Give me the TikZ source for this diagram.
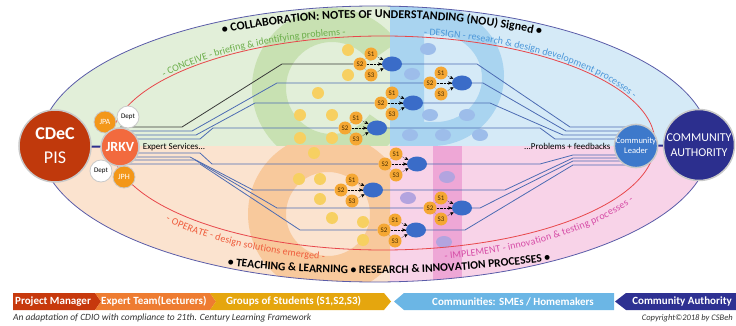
\documentclass[tikz,border=0pt]{standalone}
\usepackage{fontspec}
\setmainfont{Carlito}
\usepackage{tikz}
\usetikzlibrary{arrows}
\usetikzlibrary{calc}
\usetikzlibrary{positioning}
\usetikzlibrary{shapes.geometric}
\usetikzlibrary{decorations.text}

\definecolor{qgreen}{HTML}{E2EFD9}
\definecolor{qblue}{HTML}{D5EAF7}
\definecolor{qpeach}{HTML}{FBE3CF}
\definecolor{qpink}{HTML}{F8D3E8}
\definecolor{letC}{HTML}{C8E1B2}
\definecolor{letD}{HTML}{A9D4F0}
\definecolor{letO}{HTML}{F8C99C}
\definecolor{letI}{HTML}{EEA7D6}
\definecolor{dotY}{HTML}{F7D061}
\definecolor{dotB}{HTML}{9DBDEA}
\definecolor{dotP}{HTML}{B3A4DF}
\definecolor{rimline}{HTML}{5A5CA8}
\definecolor{redline}{HTML}{E8474B}
\definecolor{wireblue}{HTML}{4D6CB3}
\definecolor{wiredark}{HTML}{3A3A3A}
\definecolor{studorange}{HTML}{F5A733}
\definecolor{studtext}{HTML}{4A2E00}
\definecolor{blobblue}{HTML}{3A6CC8}
\definecolor{cdecred}{HTML}{C0390C}
\definecolor{jrkvred}{HTML}{F26A3E}
\definecolor{jporange}{HTML}{F39719}
\definecolor{clblue}{HTML}{3D79CB}
\definecolor{canavy}{HTML}{2C2F8E}
\definecolor{ringgray}{HTML}{C9C9C9}
\definecolor{conceive}{HTML}{6CAE4A}
\definecolor{design}{HTML}{4C97D9}
\definecolor{operate}{HTML}{EF5B3B}
\definecolor{implement}{HTML}{D64CA6}
\definecolor{pmband}{HTML}{C7390D}
\definecolor{etband}{HTML}{EE7C31}
\definecolor{gsband}{HTML}{E5A60E}
\definecolor{cmband}{HTML}{6BB6E5}
\definecolor{caband}{HTML}{2E3192}

\pgfdeclarelayer{back}
\pgfdeclarelayer{wires}
\pgfsetlayers{back,wires,main}

\begin{document}
\begin{tikzpicture}[x=1pt, y=-1pt, >=stealth']

    \tikzstyle{bigcirc}   = [circle, draw=ringgray, line width=1.5pt, inner sep=0pt, text=white, align=center]
    \tikzstyle{smallcirc} = [circle, draw=ringgray, line width=0.8pt, inner sep=0pt, minimum size=22pt, font=\fontsize{8}{8}\selectfont]
    \tikzstyle{stud}      = [circle, fill=studorange, inner sep=0pt, minimum size=13pt, text=studtext, font=\fontsize{7}{7}\selectfont]
    \tikzstyle{blob}      = [ellipse, fill=blobblue, inner sep=0pt, minimum width=20pt, minimum height=15pt]
    \tikzstyle{wire}      = [draw=wireblue, line width=0.8pt]
    \tikzstyle{sdot}      = [densely dotted, thin, black!70]
    \tikzstyle{feed}      = [->, densely dotted, thin, black]
    \tikzstyle{joint}     = [draw=canavy, line width=2pt]
    \tikzstyle{bandtext}  = [text=white, inner sep=0pt, font=\fontsize{11}{11}\selectfont\bfseries]

    \useasboundingbox (0,0) rectangle (736,326);

    % Quadrants, big letters and dots %%%%%%%%%%%%%%%%%%%%%%%%%%%%%%%%%%%%%%%%%%%%%%%%%%%
    \begin{pgfonlayer}{back}
      \begin{scope}
        \clip (375,144) ellipse [x radius=335, y radius=138];
        \fill[qgreen] (0,0) rectangle (390,146);
        \fill[qblue]  (390,0) rectangle (736,146);
        \fill[qpeach] (0,146) rectangle (390,326);
        \fill[qpink]  (390,146) rectangle (736,326);

        \begin{scope}
          \clip (0,0) rectangle (390,146);
          \fill[letC] ($(332,88)+(35:80)$) arc[start angle=35, end angle=325, radius=80]
                      -- ($(332,88)+(325:46)$) arc[start angle=325, end angle=35, radius=46] -- cycle;
        \end{scope}
        \begin{scope}
          \clip (390,0) rectangle (736,146);
          \fill[letD, even odd rule] (390,6) -- (432,6) arc[start angle=270, end angle=450, x radius=72, y radius=70] -- (390,146) -- cycle
                                     (424,34) -- (436,34) arc[start angle=270, end angle=450, x radius=46, y radius=44] -- (424,122) -- cycle;
        \end{scope}
        \begin{scope}
          \clip (0,146) rectangle (390,326);
          \fill[letO, even odd rule] (328,214) circle[radius=80] (328,214) circle[radius=42];
        \end{scope}
        \fill[letI] (433,146) rectangle (462,300);

        \foreach \p in {(348,50),(348,75),(318,93),(300,115),(332,115),(300,138),(332,138),
                        (314,153),(299,179),(320,179),(320,199),(332,218),(363,222),(363,240)}
          \fill[dotY] \p circle[radius=6];
        \foreach \p in {(428,49),(412,74),(430,115),(467,115),(410,135),(443,135),(480,135)}
          \fill[dotB] \p ellipse[x radius=8, y radius=6];
        \foreach \p in {(447,177),(408,198),(444,242)}
          \fill[dotP] \p ellipse[x radius=8, y radius=6];
      \end{scope}

      \draw[rimline, line width=0.8pt] (375,144) ellipse [x radius=335, y radius=138];
      \draw[redline, line width=0.8pt] (383,143) ellipse [x radius=272, y radius=107];

      % texts along the rings
      \path[decorate, decoration={text along path, text align=center,
            text={|\fontsize{12}{12}\selectfont\bfseries|• COLLABORATION: NOTES OF UNDERSTANDING (NOU) Signed •}}]
            ($(378,144)+(222:324 and 126)$) arc[start angle=222, end angle=320, x radius=324, y radius=126];
      \path[decorate, decoration={text along path, text align=center, raise=2pt,
            text={|\fontsize{10}{10}\selectfont\color{conceive}|- CONCEIVE - briefing {\&} identifying problems -}}]
            ($(383,143)+(200:272 and 107)$) arc[start angle=200, end angle=272, x radius=272, y radius=107];
      \path[decorate, decoration={text along path, text align=center, raise=2pt,
            text={|\fontsize{10}{10}\selectfont\color{design}|- DESIGN - research {\&} design development processes -}}]
            ($(383,143)+(272:272 and 107)$) arc[start angle=272, end angle=350, x radius=272, y radius=107];
      \path[decorate, decoration={text along path, text align=center, raise=-12pt,
            text={|\fontsize{10}{10}\selectfont\color{operate}|- OPERATE - design solutions emerged -}}]
            ($(383,143)+(156:272 and 107)$) arc[start angle=156, end angle=93, x radius=272, y radius=107];
      \path[decorate, decoration={text along path, text align=center, raise=-12pt,
            text={|\fontsize{10}{10}\selectfont\color{implement}|- IMPLEMENT - innovation {\&} testing processes -}}]
            ($(383,143)+(84:272 and 107)$) arc[start angle=84, end angle=13, x radius=272, y radius=107];
      \path[decorate, decoration={text along path, text align=center,
            text={|\fontsize{11.5}{12}\selectfont\bfseries|• TEACHING {\&} LEARNING • RESEARCH {\&} INNOVATION PROCESSES •}}]
            ($(370,144.5)+(116:409 and 129)$) arc[start angle=116, end angle=58, x radius=409, y radius=129];
    \end{pgfonlayer}

    % Partners %%%%%%%%%%%%%%%%%%%%%%%%%%%%%%%%%%%%%%%%%%%%%%%%%%%%%%%%%%%%%%%%%%%%%%%%%%
    \node[bigcirc, fill=cdecred, minimum size=72pt, font=\fontsize{18}{24}\selectfont] (cdec) at (55,146) {\textbf{CDeC}\\PIS};
    \node[smallcirc, fill=jporange, text=white] (jpa)   at (105,122) {JPA};
    \node[smallcirc, fill=white, font=\fontsize{7}{7}\selectfont] (dept1) at (128,117) {Dept};
    \node[smallcirc, fill=white, font=\fontsize{7}{7}\selectfont] (dept2) at (101,171) {Dept};
    \node[smallcirc, fill=jporange, text=white] (jph)   at (124,177) {JPH};
    \node[bigcirc, fill=jrkvred, minimum size=38pt, font=\fontsize{14}{14}\selectfont\bfseries] (jrkv) at (120,147) {JRKV};

    \node[bigcirc, fill=clblue, minimum size=42pt, font=\fontsize{8.5}{10}\selectfont] (cl) at (636,146) {Community\\Leader};
    \node[bigcirc, fill=canavy, minimum size=71pt, font=\fontsize{12}{15}\selectfont] (ca) at (699,145) {COMMUNITY\\AUTHORITY};

    \draw[joint] (cdec) -- (jrkv);
    \draw[joint] (cl) -- (ca);

    \node[right=3pt of jrkv, inner sep=0pt, font=\fontsize{9}{10}\selectfont] (expert) {Expert Services...};
    \node[left=3pt of cl, inner sep=0pt, font=\fontsize{9}{10}\selectfont] (problems) {...Problems + feedbacks};

    % Student groups %%%%%%%%%%%%%%%%%%%%%%%%%%%%%%%%%%%%%%%%%%%%%%%%%%%%%%%%%%%%%%%%%%%%
    \foreach \g/\gx/\gy in {1/392/64, 2/462/83, 3/413/103, 4/377/128, 5/417/164, 6/373/190, 7/462/208, 8/416/230} {
      \node[blob] (e\g) at (\gx,\gy) {};
      \node[stud] (sa\g) at ($(e\g)+(-21,-10)$) {S1};
      \node[stud] (sb\g) at ($(e\g)+(-32,0)$) {S2};
      \node[stud] (sc\g) at ($(e\g)+(-21,11)$) {S3};
      \draw[sdot] (sa\g) -- (sb\g) -- (sc\g);
      \draw[feed] (sa\g) -- (e\g);
      \draw[feed] (sb\g) -- (e\g);
      \draw[feed] (sc\g) -- (e\g);
    }

    % Now link the nodes %%%%%%%%%%%%%%%%%%%%%%%%%%%%%%%%%%%%%%%%%%%%%%%%%%%%%%%%%%%%%%%%
    \begin{pgfonlayer}{wires}
      \draw[wire, draw=wiredark] ($(jrkv)+(0,-20)$) -- ++(62,0) -- ++(100,-63) -- (sb1);
      \draw[wire] ($(jrkv)+(0,-16)$) -- ++(72,0) -- ++(85,-48) -- (sb2);
      \draw[wire] ($(jrkv)+(0,-12)$) -- ++(76,0) -- ++(59,-32) -- (sb3);
      \draw[wire] ($(jrkv)+(0,-8)$)  -- ++(80,0) -- ++(13,-11) -- (sb4);
      \draw[wire] ($(jrkv)+(0,6)$)   -- ++(80,0) -- ++(12,11)  -- (sb5);
      \draw[wire] ($(jrkv)+(0,10)$)  -- ++(70,0) -- ++(63,33)  -- (sb6);
      \draw[wire] ($(jrkv)+(0,13)$)  -- ++(75,0) -- ++(82,48)  -- (sb7);
      \draw[wire] ($(jrkv)+(0,17)$)  -- ++(80,0) -- ++(100,66) -- (sb8);

      \draw[wire] (e1) -- ++(85,0)  -- ++(93,63)   -- ($(cl)+(0,-19)$);
      \draw[wire] (e2) -- ++(21,0)  -- ++(83,48)   -- ($(cl)+(0,-15)$);
      \draw[wire] (e3) -- ++(77,0)  -- ++(73,32)   -- ($(cl)+(0,-11)$);
      \draw[wire] (e4) -- ++(163,0) -- ++(15,11)   -- ($(cl)+(0,-7)$);
      \draw[wire] (e5) -- ++(123,0) -- ++(33,-9)   -- ($(cl)+(0,9)$);
      \draw[wire] (e6) -- ++(132,0) -- ++(68,-32)  -- ($(cl)+(0,12)$);
      \draw[wire] (e7) -- ++(18,0)  -- ++(93,-47)  -- ($(cl)+(0,15)$);
      \draw[wire] (e8) -- ++(49,0)  -- ++(108,-65) -- ($(cl)+(0,19)$);
    \end{pgfonlayer}

    % Legend band %%%%%%%%%%%%%%%%%%%%%%%%%%%%%%%%%%%%%%%%%%%%%%%%%%%%%%%%%%%%%%%%%%%%%%%
    \fill[pmband] (13,293) -- (95,293) -- (101,301.5) -- (95,310) -- (13,310) -- cycle;
    \fill[etband] (95,293) -- (210,293) -- (216,301.5) -- (210,310) -- (95,310) -- (101,301.5) -- cycle;
    \fill[gsband] (210,293) -- (384,293) -- (391,301.5) -- (384,310) -- (210,310) -- (216,301.5) -- cycle;
    \fill[cmband] (404,293) -- (614,293) -- (614,310) -- (404,310) -- (394,301.5) -- cycle;
    \fill[caband] (626,293) -- (736,293) -- (736,310) -- (626,310) -- (615,301.5) -- cycle;

    \node[bandtext, anchor=west] (pm) at (15,301.5)  {Project Manager};
    \node[bandtext, anchor=west] (et) at (101,301.5) {Expert Team(Lecturers)};
    \node[bandtext, anchor=west] (gs) at (226,301.5) {Groups of Students (S1,S2,S3)};
    \node[bandtext] (cm) at (513,301.5) {Communities: SMEs / Homemakers};
    \node[bandtext] (cb) at (682,301.5) {Community Authority};

    \node[anchor=west, inner sep=0pt, text=black!80, font=\fontsize{9.5}{10}\selectfont\itshape] (note) at (13,318) {An adaptation of CDIO with compliance to 21th. Century Learning Framework};
    \node[anchor=east, inner sep=0pt, text=black!80, font=\fontsize{8.5}{9}\selectfont\itshape] (copy) at (733,318) {Copyright©2018 by CSBeh};

\end{tikzpicture}
\end{document}
